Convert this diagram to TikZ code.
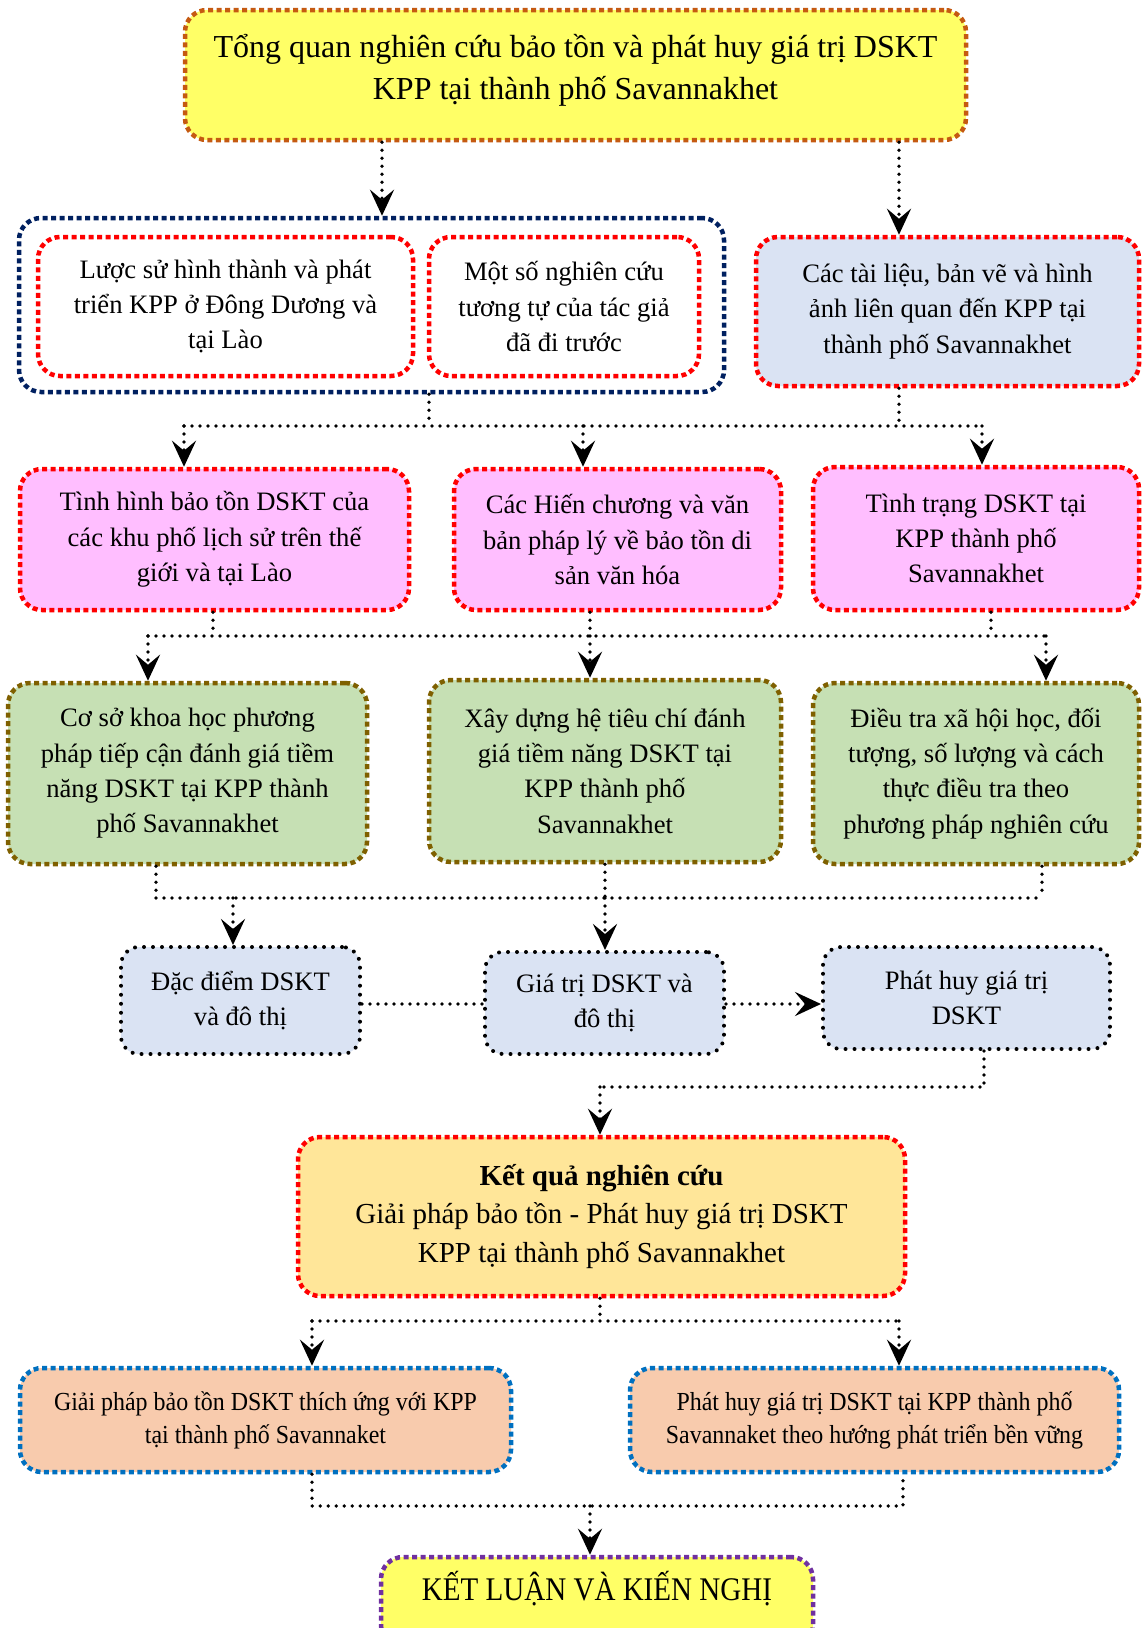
\documentclass[tikz,border=0pt]{standalone}
\usepackage{fontspec}
\setmainfont{Liberation Serif}
\newfontfamily\narrowfont[FakeStretch=0.92]{Liberation Serif}
\newfontfamily\narrowerfont[FakeStretch=0.88]{Liberation Serif}
\usetikzlibrary{arrows.meta}
\definecolor{top_yellow}{RGB}{255, 255, 102}
\definecolor{top_orange}{RGB}{197, 90, 17}
\definecolor{grp_navy}{RGB}{0, 32, 96}
\definecolor{doc_blue}{RGB}{218, 227, 243}
\definecolor{box_pink}{RGB}{255, 190, 255}
\definecolor{box_green}{RGB}{198, 224, 180}
\definecolor{box_olive}{RGB}{127, 96, 0}
\definecolor{res_gold}{RGB}{255, 230, 153}
\definecolor{sol_peach}{RGB}{248, 203, 173}
\definecolor{sol_blue}{RGB}{0, 112, 192}
\definecolor{end_purple}{RGB}{112, 48, 160}
\tikzstyle{sq}=[line width=4.5pt,dash pattern=on 5pt off 3.5pt,rounded corners=22pt,
  align=center,inner sep=0pt,font=\fontsize{26.6}{35.3}\selectfont]
\tikzstyle{topbox}=[sq,fill=top_yellow,draw=top_orange,font=\fontsize{32}{41.5}\selectfont]
\tikzstyle{grpbox}=[sq,draw=grp_navy]
\tikzstyle{redbox}=[sq,fill=white,draw=red]
\tikzstyle{docbox}=[sq,fill=doc_blue,draw=red]
\tikzstyle{pinkbox}=[sq,fill=box_pink,draw=red]
\tikzstyle{greenbox}=[sq,fill=box_green,draw=box_olive]
\tikzstyle{dotbox}=[fill=doc_blue,draw=black,line width=4pt,dash pattern=on 0pt off 9pt,
  line cap=round,rounded corners=18pt,align=center,inner sep=0pt,font=\fontsize{26.6}{35.3}\selectfont]
\tikzstyle{resbox}=[sq,fill=res_gold,draw=red,font=\fontsize{29}{38.4}\selectfont]
\tikzstyle{solbox}=[sq,fill=sol_peach,draw=sol_blue,font=\narrowfont\fontsize{26}{33}\selectfont]
\tikzstyle{endbox}=[sq,fill=top_yellow,draw=end_purple,font=\narrowerfont\fontsize{33}{40}\selectfont]
\tikzstyle{conn}=[line width=3.7pt,dash pattern=on 0pt off 8pt,line cap=round]
\tikzstyle{arr}=[conn,-{Stealth[length=26pt,width=24pt,inset=10pt]}]

\begin{document}
\begin{tikzpicture}[x=1pt,y=-1pt]
    \useasboundingbox (0,0) rectangle (1141,1628);
    % boxes
    \node [style=topbox,minimum width=781pt,minimum height=130pt,text depth=16pt] (top) at (575.5,75) {Tổng quan nghiên cứu bảo tồn và phát huy giá trị DSKT\\KPP tại thành phố Savannakhet};
    \node [style=grpbox,minimum width=705pt,minimum height=174pt] (grp) at (371.5,305) {};
    \node [style=redbox,minimum width=375pt,minimum height=139pt] (hist) at (225.5,306.5) {Lược sử hình thành và phát\\triển KPP ở Đông Dương và\\tại Lào};
    \node [style=redbox,minimum width=270pt,minimum height=139pt] (sim) at (564,306.5) {Một số nghiên cứu\\tương tự của tác giả\\đã đi trước};
    \node [style=docbox,minimum width=383pt,minimum height=149pt] (docs) at (947.5,311.5) {Các tài liệu, bản vẽ và hình\\ảnh liên quan đến KPP tại\\thành phố Savannakhet};
    \node [style=pinkbox,minimum width=389pt,minimum height=141pt] (p1) at (214.5,539.5) {Tình hình bảo tồn DSKT của\\các khu phố lịch sử trên thế\\giới và tại Lào};
    \node [style=pinkbox,minimum width=327pt,minimum height=141pt] (p2) at (617.5,539.5) {Các Hiến chương và văn\\bản pháp lý về bảo tồn di\\sản văn hóa};
    \node [style=pinkbox,minimum width=326pt,minimum height=143pt] (p3) at (976,538.5) {Tình trạng DSKT tại\\KPP thành phố\\Savannakhet};
    \node [style=greenbox,minimum width=359pt,minimum height=181pt] (g1) at (187.5,773.5) {Cơ sở khoa học phương\\pháp tiếp cận đánh giá tiềm\\năng DSKT tại KPP thành\\phố Savannakhet};
    \node [style=greenbox,minimum width=352pt,minimum height=182pt] (g2) at (605,771) {Xây dựng hệ tiêu chí đánh\\giá tiềm năng DSKT tại\\KPP thành phố\\Savannakhet};
    \node [style=greenbox,minimum width=326pt,minimum height=181pt] (g3) at (976,773.5) {Điều tra xã hội học, đối\\tượng, số lượng và cách\\thực điều tra theo\\phương pháp nghiên cứu};
    \node [style=dotbox,minimum width=239pt,minimum height=107pt] (feat) at (240.5,1000.5) {Đặc điểm DSKT\\và đô thị};
    \node [style=dotbox,minimum width=239pt,minimum height=102pt] (val) at (604.5,1003) {Giá trị DSKT và\\đô thị};
    \node [style=dotbox,minimum width=287pt,minimum height=102pt] (prom) at (966.5,998) {Phát huy giá trị\\DSKT};
    \node [style=resbox,minimum width=607pt,minimum height=159pt] (res) at (601.5,1216.5) {\textbf{Kết quả nghiên cứu}\\Giải pháp bảo tồn - Phát huy giá trị DSKT\\KPP tại thành phố Savannakhet};
    \node [style=solbox,minimum width=491pt,minimum height=104pt] (sol1) at (265.5,1420) {Giải pháp bảo tồn DSKT thích ứng với KPP\\tại thành phố Savannaket};
    \node [style=solbox,minimum width=489pt,minimum height=104pt] (sol2) at (874.5,1420) {Phát huy giá trị DSKT tại KPP thành phố\\Savannaket theo hướng phát triển bền vững};
    \node [style=endbox,minimum width=432pt,minimum height=90pt,text depth=32pt] (concl) at (597,1602) {KẾT LUẬN VÀ KIẾN NGHỊ};
    % junctions
    \coordinate (t1) at (382,0);
    \coordinate (t2) at (899,0);
    \coordinate (b1l) at (184,426);
    \coordinate (b1m) at (583,426);
    \coordinate (b1g) at (429,426);
    \coordinate (b1d) at (899,426);
    \coordinate (b1r) at (982,426);
    \coordinate (b2l) at (148,636);
    \coordinate (b2a) at (213,636);
    \coordinate (b2m) at (590,636);
    \coordinate (b2c) at (991,636);
    \coordinate (b2r) at (1046,636);
    \coordinate (b3l) at (156,898);
    \coordinate (b3a) at (233,898);
    \coordinate (b3m) at (605,898);
    \coordinate (b3r) at (1042,898);
    \coordinate (r5) at (0,1004);
    \coordinate (b4r) at (984,1087);
    \coordinate (b4l) at (600,1087);
    \coordinate (b5l) at (312,1321);
    \coordinate (b5m) at (600,1321);
    \coordinate (b5r) at (899,1321);
    \coordinate (b6l) at (312,1506);
    \coordinate (b6m) at (590,1506);
    \coordinate (b6r) at (903,1506);
    % connectors
    \draw [style=arr] (top.south -| t1) to (grp.north -| t1);
    \draw [style=arr] (top.south -| t2) to (docs.north -| t2);
    \draw [style=conn] (grp.south -| b1g) to (b1g);
    \draw [style=conn] (docs.south -| b1d) to (b1d);
    \draw [style=conn] (b1l) to (b1r);
    \draw [style=arr] (b1l) to (p1.north -| b1l);
    \draw [style=arr] (b1m) to (p2.north -| b1m);
    \draw [style=arr] (b1r) to (p3.north -| b1r);
    \draw [style=conn] (p1.south -| b2a) to (b2a);
    \draw [style=conn] (p2.south -| b2m) to (b2m);
    \draw [style=conn] (p3.south -| b2c) to (b2c);
    \draw [style=conn] (b2l) to (b2r);
    \draw [style=arr] (b2l) to (g1.north -| b2l);
    \draw [style=arr] (b2m) to (g2.north -| b2m);
    \draw [style=arr] (b2r) to (g3.north -| b2r);
    \draw [style=conn] (g1.south -| b3l) to (b3l);
    \draw [style=conn] (g2.south -| b3m) to (b3m);
    \draw [style=conn] (g3.south -| b3r) to (b3r);
    \draw [style=conn] (b3l) to (b3r);
    \draw [style=arr] (b3a) to (feat.north -| b3a);
    \draw [style=arr] (b3m) to (val.north -| b3m);
    \draw [style=conn] (feat.east |- r5) to (val.west |- r5);
    \draw [style=arr] (val.east |- r5) to (prom.west |- r5);
    \draw [style=conn] (prom.south -| b4r) -- (b4r) -- (b4l);
    \draw [style=arr] (b4l) to (res.north -| b4l);
    \draw [style=conn] (res.south -| b5m) to (b5m);
    \draw [style=conn] (b5l) to (b5r);
    \draw [style=arr] (b5l) to (sol1.north -| b5l);
    \draw [style=arr] (b5r) to (sol2.north -| b5r);
    \draw [style=conn] (sol1.south -| b6l) -- (b6l) -- (b6r) -- (sol2.south -| b6r);
    \draw [style=arr] (b6m) to (concl.north -| b6m);
  \end{tikzpicture}
\end{document}
